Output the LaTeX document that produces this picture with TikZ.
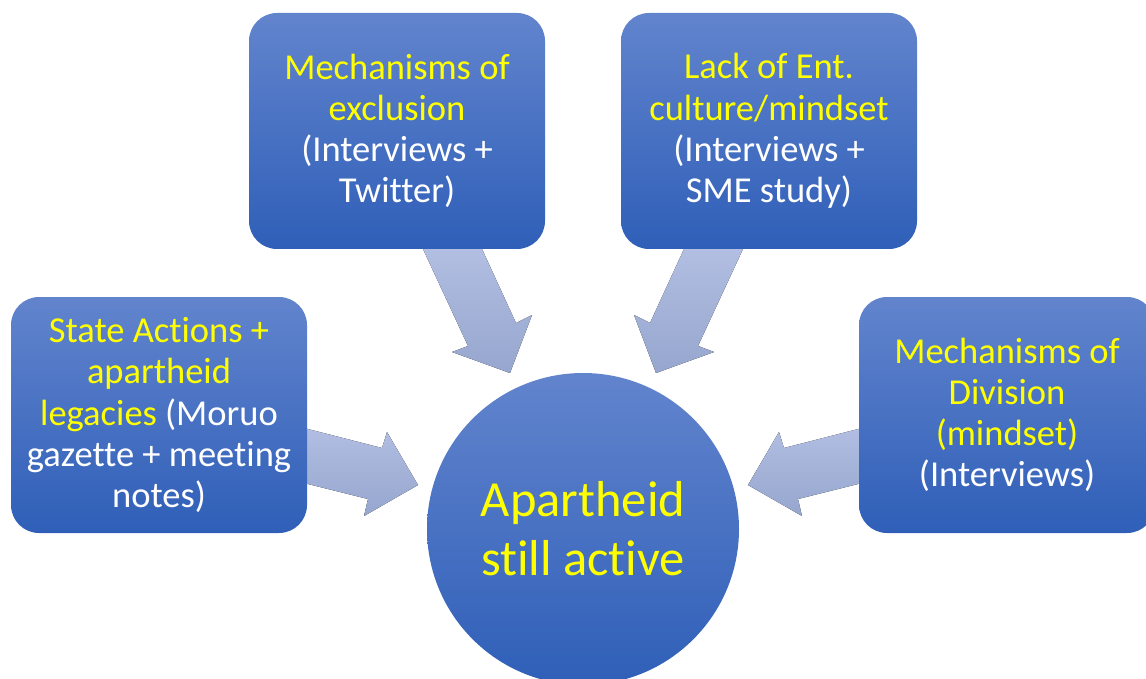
\documentclass[tikz,border=0pt]{standalone}
\usepackage{fontspec}
\setmainfont[Ligatures={NoCommon}]{Carlito}
\definecolor{boxtop}{RGB}{98,132,205}
\definecolor{boxbot}{RGB}{47,95,184}
\definecolor{arrtop}{RGB}{178,190,226}
\definecolor{arrbot}{RGB}{150,166,206}
\definecolor{ytext}{RGB}{255,255,0}
\tikzset{
  x=1pt, y=-1pt,
  srcbox/.style={rectangle, rounded corners=28pt, top color=boxtop, bottom color=boxbot,
    minimum width=296pt, minimum height=236pt, text=white, align=center,
    font=\fontsize{36.5}{41.2}\selectfont, inner sep=0pt},
  hub/.style={circle, top color=boxtop, bottom color=boxbot, minimum size=312pt,
    text=ytext, align=center, font=\fontsize{50.5}{59}\selectfont, inner sep=0pt},
  blockarrow/.style={top color=arrtop, bottom color=arrbot, draw=none}
}
\begin{document}
\begin{tikzpicture}
\useasboundingbox (0,0) rectangle (1146,679);
\clip (0,0) rectangle (1146,679);
% block arrows (drawn first, behind nodes)
\fill[blockarrow] (423,249) -- (482,249) -- (516,323) -- (532,315) -- (510,373) -- (452,352) -- (468,346) -- cycle;
\fill[blockarrow] (743,249) -- (684,249) -- (650,323) -- (634,315) -- (656,373) -- (714,352) -- (698,346) -- cycle;
\fill[blockarrow] (300,427) -- (382,448) -- (387,432) -- (418,485) -- (364,516) -- (368,499) -- (300,482) -- cycle;
\fill[blockarrow] (866,427) -- (784,448) -- (779,432) -- (748,485) -- (802,516) -- (798,499) -- (866,482) -- cycle;
% nodes
\node[hub] (hub) at (583,529) {Apartheid\\still active};
\node[srcbox] (excl) at (397,131) {\textcolor{ytext}{Mechanisms of}\\\textcolor{ytext}{exclusion}\\(Interviews +\\Twitter)};
\node[srcbox] (ent) at (769,131) {\textcolor{ytext}{Lack of Ent.}\\\textcolor{ytext}{culture/mindset}\\(Interviews +\\SME study)};
\node[srcbox] (state) at (159,415) {\textcolor{ytext}{State Actions +}\\\textcolor{ytext}{apartheid}\\\textcolor{ytext}{legacies} (Moruo\\gazette + meeting\\notes)};
\node[srcbox] (div) at (1007,415) {\textcolor{ytext}{Mechanisms of}\\\textcolor{ytext}{Division}\\\textcolor{ytext}{(mindset)}\\(Interviews)};
\end{tikzpicture}
\end{document}
